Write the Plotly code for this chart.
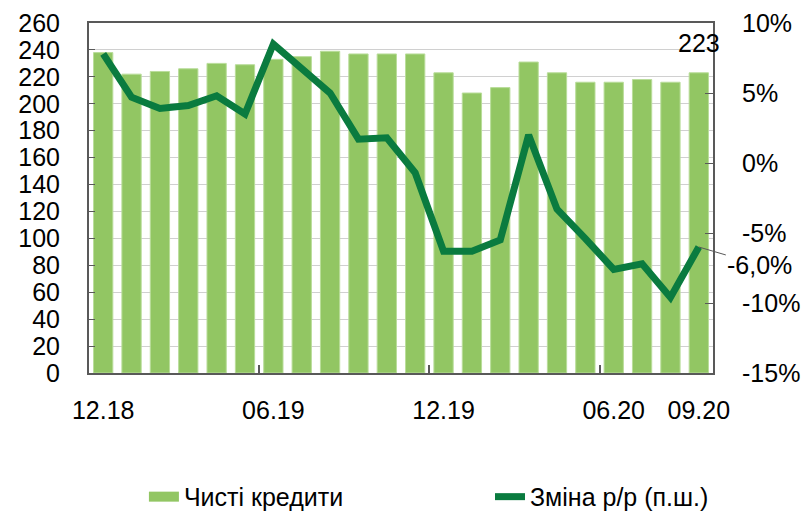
import plotly.graph_objects as go

categories = ["12.18", "01.19", "02.19", "03.19", "04.19", "05.19", "06.19", "07.19",
              "08.19", "09.19", "10.19", "11.19", "12.19", "01.20", "02.20", "03.20",
              "04.20", "05.20", "06.20", "07.20", "08.20", "09.20"]
net_loans = [238, 222, 224, 226, 230, 229, 233, 235, 239, 237, 237, 237,
             223, 208, 212, 231, 223, 216, 216, 218, 216, 223]
yoy_change = [7.8, 4.7, 3.9, 4.1, 4.8, 3.5, 8.5, 6.8, 5.0, 1.7, 1.8, -0.7,
              -6.3, -6.3, -5.5, 2.0, -3.3, -5.4, -7.6, -7.2, -9.6, -6.0]
x_tick_labels = ["12.18", "06.19", "12.19", "06.20", "09.20"]
y2_tick_vals = [10, 5, 0, -5, -10, -15]
y2_tick_text = ["10%", "5%", "0%", "-5%", "-10%", "-15%"]
series_names = ["Чисті кредити", "Зміна р/р (п.ш.)"]

BAR = "#92c663"
LINE = "#0a7b3f"
AXIS = "#595959"
FONT = "Liberation Sans, Arial, sans-serif"
FS = 25

last = len(categories) - 1
xrange = [-0.5, last + 0.5]

fig = go.Figure()
fig.add_trace(go.Bar(x=categories, y=net_loans, marker=dict(color=BAR, line=dict(color="#b9dd9a", width=1)),
                     showlegend=False, yaxis="y"))
# legend proxy for bars
fig.add_trace(go.Scatter(x=[None], y=[None], mode="lines", name=series_names[0],
                         line=dict(color=BAR, width=13), yaxis="y", legend="legend"))
fig.add_trace(go.Scatter(x=categories, y=yoy_change, mode="lines", name=series_names[1],
                         line=dict(color=LINE, width=7), yaxis="y2", legend="legend2"))
# helper trace for boundary tick marks axis
fig.add_trace(go.Scatter(x=[0], y=[0], xaxis="x2", yaxis="y", mode="markers",
                         marker=dict(opacity=0), showlegend=False, hoverinfo="skip"))

legend_common = dict(orientation="h", y=-0.354, yanchor="middle", xanchor="left",
                     font=dict(size=FS), bgcolor="rgba(0,0,0,0)", itemwidth=30)

fig.update_layout(
    width=802, height=503,
    margin=dict(l=81, r=97, t=15, b=138, autoexpand=False),
    paper_bgcolor="white", plot_bgcolor="white",
    font=dict(family=FONT, size=FS, color="black"),
    bargap=0.32,
    xaxis=dict(type="category", categoryorder="array", categoryarray=categories,
               range=xrange, autorange=False,
               tickvals=x_tick_labels, ticktext=x_tick_labels,
               showline=True, linecolor=AXIS, linewidth=2, mirror=True,
               ticks="", showgrid=False, ticklabelstandoff=14, automargin=False,
               tickfont=dict(size=FS)),
    xaxis2=dict(overlaying="x", anchor="y", side="bottom", range=xrange, autorange=False,
                tickvals=[5.5, 11.5, 17.5], ticks="inside", ticklen=8, tickwidth=1.5,
                tickcolor=AXIS, showticklabels=False, showgrid=False, showline=False,
                zeroline=False, automargin=False),
    yaxis=dict(range=[0, 260], autorange=False, dtick=20, tick0=0, showgrid=True,
               gridcolor="#d0d0d0", gridwidth=1, showline=True, linecolor=AXIS,
               linewidth=2, mirror=True, ticks="inside", ticklen=6, tickcolor=AXIS,
               zeroline=False, ticklabelstandoff=22, automargin=False,
               tickfont=dict(size=FS)),
    yaxis2=dict(overlaying="y", side="right", range=[-15, 10], autorange=False,
                tickvals=y2_tick_vals, ticktext=y2_tick_text,
                showgrid=False, showline=True, linecolor=AXIS, linewidth=2,
                ticks="inside", ticklen=8, tickcolor=AXIS, zeroline=False,
                ticklabelstandoff=22, automargin=False, tickfont=dict(size=FS)),
    legend=dict(x=0.088, **legend_common),
    legend2=dict(x=0.6426, **legend_common),
    annotations=[
        dict(x=last, y=net_loans[-1], xref="x", yref="y", text=str(net_loans[-1]),
             showarrow=False, yanchor="bottom", yshift=14, font=dict(size=FS)),
        dict(x=last, y=yoy_change[-1], xref="x", yref="y2",
             text=f"{yoy_change[-1]:.1f}%".replace(".", ","),
             showarrow=True, arrowhead=0, arrowwidth=1, arrowcolor=AXIS,
             ax=61, ay=18, standoff=0, font=dict(size=FS)),
    ],
)

fig.write_html("out.html")
